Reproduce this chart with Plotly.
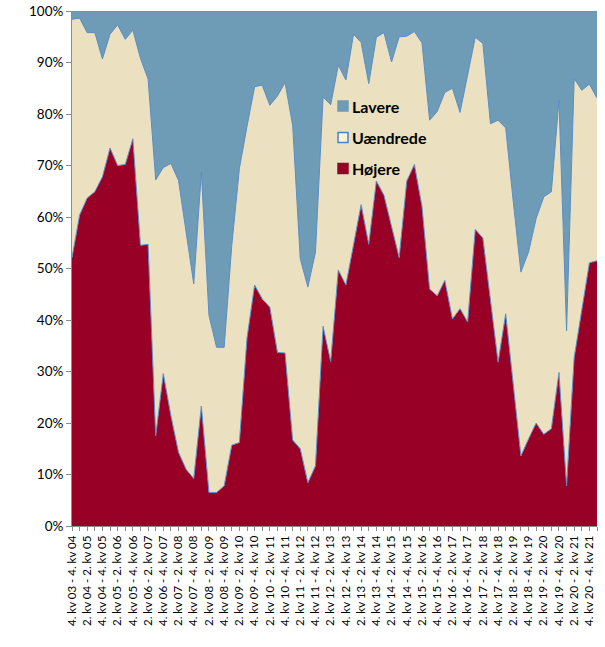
import plotly.graph_objects as go

# Quarter categories: "q. kv yy - q. kv yy+1", starting 4. kv 03
quarters = []
q, y = 4, 3
for _ in range(70):
    quarters.append(f"{q}. kv {y:02d} - {q}. kv {y + 1:02d}")
    q += 1
    if q > 4:
        q, y = 1, y + 1

hojere = [52.1, 60.4, 63.7, 64.9, 67.8, 73.4, 70.0, 70.2, 75.2, 54.5, 54.7,
          17.5, 29.6, 21.4, 14.3, 11.0, 9.2, 23.3, 6.5, 6.5, 7.8, 15.7, 16.2,
          36.5, 46.8, 44.1, 42.5, 33.7, 33.6, 16.7, 15.0, 8.4, 11.7, 38.8, 31.9,
          49.7, 46.8, 54.6, 62.4, 54.7, 67.0, 64.2, 58.4, 52.1, 67.0, 70.2, 62.0,
          46.0, 44.7, 47.7, 40.2, 42.2, 39.6, 57.6, 55.9, 43.8, 31.8, 41.2,
          27.2, 13.6, 16.9, 20.0, 17.8, 18.9, 29.8, 7.8, 32.7, 41.7, 51.1, 51.5]

uaendrede = [46.3, 38.2, 32.1, 30.9, 22.9, 22.1, 27.3, 24.3, 21.1, 36.3, 32.1,
             49.7, 40.0, 49.0, 52.8, 46.1, 37.8, 45.4, 34.4, 28.2, 26.9, 38.8, 53.2,
             41.1, 38.5, 41.5, 39.2, 49.8, 52.5, 61.1, 36.9, 38.0, 41.5, 44.5, 49.9,
             39.8, 39.8, 40.9, 31.5, 31.2, 27.9, 31.6, 31.7, 42.9, 28.1, 25.8, 31.8,
             32.8, 35.8, 36.5, 44.8, 38.1, 47.9, 37.3, 37.8, 34.3, 47.0, 36.1,
             35.7, 35.7, 36.3, 39.7, 46.1, 46.0, 52.9, 30.1, 54.2, 42.9, 34.7, 31.6]

lavere = [1.6, 1.4, 4.2, 4.2, 9.3, 4.5, 2.7, 5.5, 3.7, 9.2, 13.2,
          32.8, 30.4, 29.6, 32.9, 42.9, 53.0, 31.3, 59.1, 65.3, 65.3, 45.5, 30.6,
          22.4, 14.7, 14.4, 18.3, 16.5, 13.9, 22.2, 48.1, 53.6, 46.8, 16.7, 18.2,
          10.5, 13.4, 4.5, 6.1, 14.1, 5.1, 4.2, 9.9, 5.0, 4.9, 4.0, 6.2,
          21.2, 19.5, 15.8, 15.0, 19.7, 12.5, 5.1, 6.3, 21.9, 21.2, 22.7,
          37.1, 50.7, 46.8, 40.3, 36.1, 35.1, 17.3, 62.1, 13.1, 15.4, 14.2, 16.9]

tick_text = [lab if i % 2 == 0 else "" for i, lab in enumerate(quarters)]
y_ticks = list(range(0, 101, 10))

RED = "#990025"
BEIGE = "#EBE1C0"
BLUE = "#6E9BB6"
EDGE = "#5B8CC4"

series = [("Højere", hojere, RED),
          ("Uændrede", uaendrede, BEIGE),
          ("Lavere", lavere, BLUE)]

fig = go.Figure()
for name, vals, col in series:
    fig.add_trace(go.Scatter(
        x=quarters, y=vals, name=name, mode="lines",
        stackgroup="one", groupnorm="percent",
        fillcolor=col, line=dict(color=EDGE, width=1),
        showlegend=False, hoverinfo="x+y+name"))

# Legend (drawn in paper coordinates, inside the plot, top to bottom)
legend_items = [("Lavere", BLUE, BLUE, 0.8155),
                ("Uændrede", "#F6F2E6", "#4F81BD", 0.7544),
                ("Højere", RED, RED, 0.6942)]
sq_x0, sq_x1, half_h = 0.5067, 0.5257, 0.0097
for label, fill, border, yc in legend_items:
    fig.add_shape(type="rect", xref="paper", yref="paper",
                  x0=sq_x0, x1=sq_x1, y0=yc - half_h, y1=yc + half_h,
                  fillcolor=fill, line=dict(color=border, width=1.5))
    fig.add_annotation(xref="paper", yref="paper", x=0.5300, y=yc,
                       xanchor="left", yanchor="middle", showarrow=False,
                       text=f"<b>{label}</b>",
                       font=dict(size=16, family="Lato, sans-serif", color="#000000"))

fig.update_layout(
    width=605, height=647,
    margin=dict(l=72, r=8, t=11, b=121),
    paper_bgcolor="white", plot_bgcolor="white",
    font=dict(family="Lato, Liberation Sans, sans-serif", color="#000000"),
    showlegend=False,
    xaxis=dict(
        type="category", range=[0, 69], automargin=False,
        tickmode="array", tickvals=quarters, ticktext=tick_text,
        tickangle=-90, tickfont=dict(size=11.5),
        ticks="outside", ticklen=4, tickcolor="#8C8C8C",
        showline=True, linecolor="#8C8C8C", linewidth=1,
        showgrid=False, zeroline=False,
    ),
    yaxis=dict(
        range=[0, 100], automargin=False,
        tickmode="array", tickvals=y_ticks,
        ticktext=[f"{v}%" for v in y_ticks],
        tickfont=dict(size=13.5),
        ticks="outside", ticklen=5, tickcolor="#8C8C8C",
        showline=True, linecolor="#8C8C8C", linewidth=1,
        showgrid=False, zeroline=False,
    ),
)

fig.write_html("out.html",
               config={"displayModeBar": False},
               post_script="document.body.style.margin='0';"
                           "document.body.style.overflow='hidden';")
